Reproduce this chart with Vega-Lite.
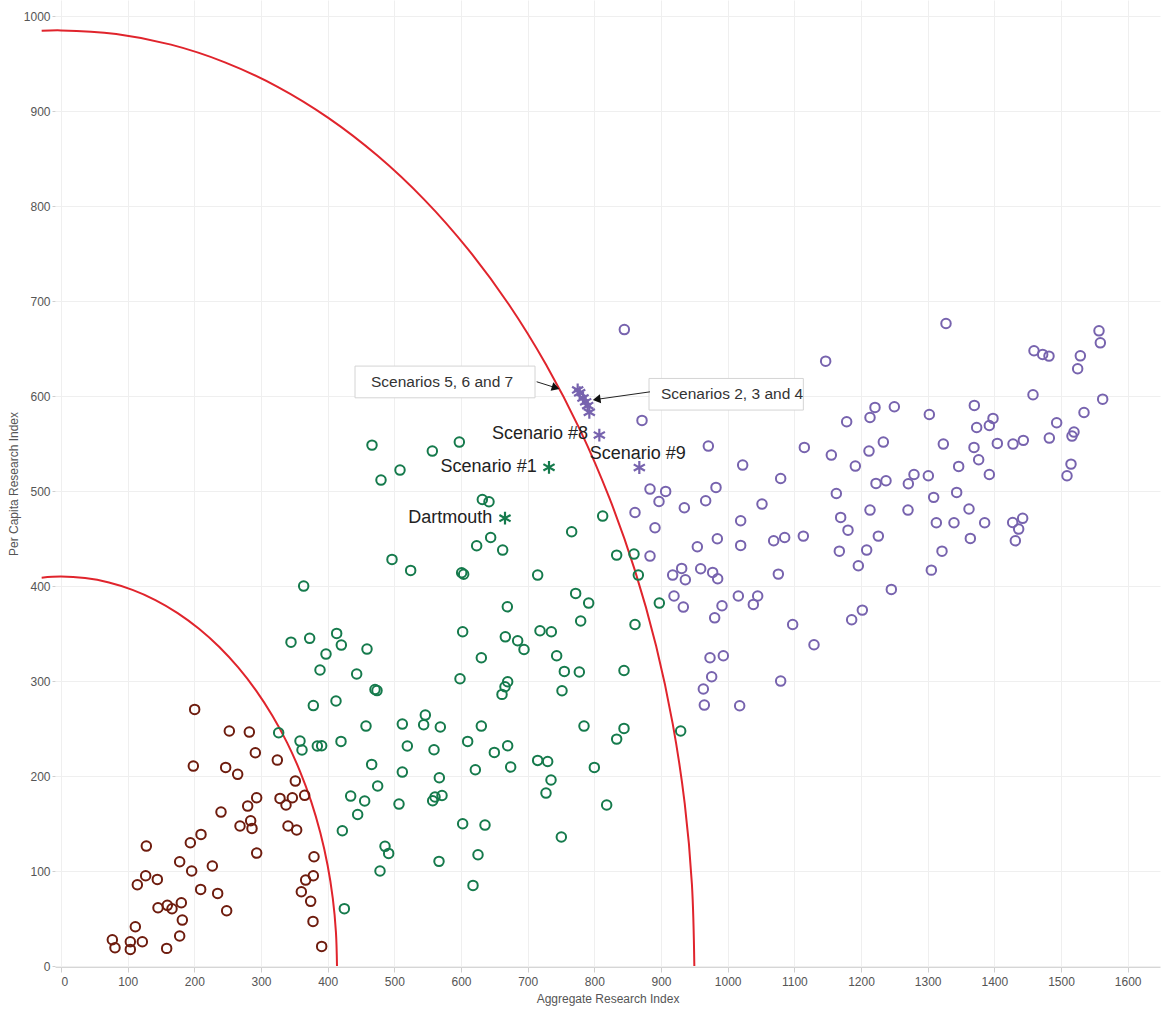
{
  "$schema": "https://vega.github.io/schema/vega-lite/v6.json",
  "width": 1105,
  "height": 967,
  "autosize": {"type": "none"},
  "padding": {"left": 55, "top": 0, "right": 3, "bottom": 48},
  "background": "white",
  "config": {
    "view": {"stroke": null},
    "font": "Liberation Sans",
    "axis": {"gridColor": "#efefef", "gridWidth": 1, "labelColor": "#555", "labelFontSize": 12, "titleColor": "#555", "titleFontSize": 12, "titleFontWeight": "normal", "tickColor": "#cfcfcf", "domainColor": "#d6d6d6"}
  },
  "datasets": {
    "pts": [
      {"x":200.5,"y":270.2,"g":"low"},{"x":252.5,"y":247.4,"g":"low"},{"x":282.5,"y":246.3,"g":"low"},{"x":291.5,"y":224.6,"g":"low"},{"x":324.5,"y":216.8,"g":"low"},{"x":198.5,"y":210.5,"g":"low"},{"x":247,"y":209.1,"g":"low"},{"x":265,"y":201.8,"g":"low"},{"x":351.5,"y":194.7,"g":"low"},{"x":365.5,"y":179.7,"g":"low"},{"x":293.5,"y":177.2,"g":"low"},{"x":328.5,"y":176.5,"g":"low"},{"x":347,"y":177.2,"g":"low"},{"x":337.5,"y":169.5,"g":"low"},{"x":280,"y":168.4,"g":"low"},{"x":240,"y":162.1,"g":"low"},{"x":284.5,"y":153,"g":"low"},{"x":268.5,"y":147.4,"g":"low"},{"x":286.5,"y":144.9,"g":"low"},{"x":340.5,"y":147.4,"g":"low"},{"x":353.5,"y":143.2,"g":"low"},{"x":210,"y":138.6,"g":"low"},{"x":194,"y":129.8,"g":"low"},{"x":128,"y":126.3,"g":"low"},{"x":293.5,"y":118.9,"g":"low"},{"x":379.5,"y":115.1,"g":"low"},{"x":178,"y":109.8,"g":"low"},{"x":227,"y":105.3,"g":"low"},{"x":196,"y":100,"g":"low"},{"x":127,"y":95.1,"g":"low"},{"x":144.5,"y":91.2,"g":"low"},{"x":114.5,"y":85.6,"g":"low"},{"x":378.5,"y":95.1,"g":"low"},{"x":367,"y":90.5,"g":"low"},{"x":209.5,"y":80.7,"g":"low"},{"x":235,"y":76.5,"g":"low"},{"x":360.5,"y":78.2,"g":"low"},{"x":374.5,"y":68.1,"g":"low"},{"x":145.5,"y":61.4,"g":"low"},{"x":159.5,"y":63.9,"g":"low"},{"x":166.5,"y":60.3,"g":"low"},{"x":180.5,"y":66.7,"g":"low"},{"x":248.5,"y":58.2,"g":"low"},{"x":182,"y":48.4,"g":"low"},{"x":378,"y":47,"g":"low"},{"x":111.5,"y":41.4,"g":"low"},{"x":178,"y":31.6,"g":"low"},{"x":77,"y":27.7,"g":"low"},{"x":81,"y":19.3,"g":"low"},{"x":104,"y":25.6,"g":"low"},{"x":122,"y":25.6,"g":"low"},{"x":104,"y":17.5,"g":"low"},{"x":158.5,"y":18.6,"g":"low"},{"x":391,"y":20.7,"g":"low"},
      {"x":326.5,"y":245.6,"g":"mid"},{"x":358.5,"y":236.8,"g":"mid"},{"x":361.5,"y":227.4,"g":"mid"},{"x":378.5,"y":274.2,"g":"mid"},{"x":384.5,"y":231.6,"g":"mid"},{"x":412.5,"y":279,"g":"mid"},
      {"x":457.5,"y":252.6,"g":"mid"},{"x":512,"y":254.7,"g":"mid"},{"x":544,"y":254,"g":"mid"},{"x":569,"y":251.6,"g":"mid"},{"x":630.5,"y":252.6,"g":"mid"},{"x":391,"y":231.9,"g":"mid"},{"x":420,"y":236.5,"g":"mid"},{"x":519.5,"y":231.6,"g":"mid"},{"x":559.5,"y":227.7,"g":"mid"},{"x":610,"y":236.5,"g":"mid"},{"x":650,"y":224.9,"g":"mid"},{"x":670,"y":231.9,"g":"mid"},{"x":466,"y":212.3,"g":"mid"},{"x":512,"y":204.2,"g":"mid"},{"x":567.5,"y":198.2,"g":"mid"},{"x":621.5,"y":206.7,"g":"mid"},{"x":674.5,"y":209.5,"g":"mid"},{"x":715,"y":216.5,"g":"mid"},{"x":730,"y":215.4,"g":"mid"},{"x":735,"y":195.8,"g":"mid"},{"x":727.5,"y":182.1,"g":"mid"},{"x":475,"y":189.5,"g":"mid"},{"x":434.5,"y":178.9,"g":"mid"},{"x":455.5,"y":173.7,"g":"mid"},{"x":445,"y":159.6,"g":"mid"},{"x":507,"y":170.5,"g":"mid"},{"x":557.5,"y":174,"g":"mid"},{"x":561,"y":178,"g":"mid"},{"x":571.5,"y":179.6,"g":"mid"},{"x":422,"y":142.4,"g":"mid"},{"x":486,"y":126,"g":"mid"},{"x":491.5,"y":118.6,"g":"mid"},{"x":478.5,"y":100,"g":"mid"},{"x":567,"y":110.2,"g":"mid"},{"x":602.5,"y":149.8,"g":"mid"},{"x":636,"y":148.4,"g":"mid"},{"x":625.5,"y":117.2,"g":"mid"},{"x":618,"y":84.9,"g":"mid"},{"x":750.5,"y":135.8,"g":"mid"},{"x":425,"y":60.4,"g":"mid"},
      {"x":466.5,"y":548.4,"g":"mid"},{"x":480,"y":511.6,"g":"mid"},{"x":508.5,"y":522.1,"g":"mid"},{"x":557,"y":542.1,"g":"mid"},{"x":597.5,"y":551.6,"g":"mid"},{"x":632,"y":491.2,"g":"mid"},{"x":642,"y":488.8,"g":"mid"},{"x":644.5,"y":451.2,"g":"mid"},{"x":623.5,"y":442.4,"g":"mid"},{"x":662.5,"y":437.9,"g":"mid"},{"x":496.5,"y":428.1,"g":"mid"},{"x":524.5,"y":416.5,"g":"mid"},{"x":601,"y":414,"g":"mid"},{"x":604,"y":412.5,"g":"mid"},{"x":715,"y":411.6,"g":"mid"},{"x":766,"y":457.2,"g":"mid"},{"x":669.5,"y":378.2,"g":"mid"},{"x":602.5,"y":351.9,"g":"mid"},{"x":666.5,"y":346.6,"g":"mid"},{"x":685,"y":342.4,"g":"mid"},{"x":694.5,"y":333.3,"g":"mid"},{"x":718.5,"y":353,"g":"mid"},{"x":735.5,"y":351.9,"g":"mid"},{"x":743.5,"y":326.6,"g":"mid"},{"x":755,"y":310.2,"g":"mid"},{"x":751.5,"y":289.8,"g":"mid"},{"x":630.5,"y":324.5,"g":"mid"},{"x":598.5,"y":302.4,"g":"mid"},{"x":670,"y":299.3,"g":"mid"},{"x":666,"y":294,"g":"mid"},{"x":661.5,"y":286,"g":"mid"},{"x":413.5,"y":350.2,"g":"mid"},{"x":420.5,"y":337.9,"g":"mid"},{"x":397.5,"y":328.4,"g":"mid"},{"x":459,"y":333.7,"g":"mid"},{"x":443.5,"y":307.4,"g":"mid"},{"x":471,"y":291.2,"g":"mid"},{"x":474,"y":290,"g":"mid"},{"x":388.5,"y":311.6,"g":"mid"},{"x":546.5,"y":264.2,"g":"mid"},{"x":364,"y":400,"g":"mid"},{"x":345,"y":341,"g":"mid"},{"x":373,"y":345,"g":"mid"},
      {"x":812.5,"y":473.7,"g":"mid"},{"x":833.5,"y":432.6,"g":"mid"},{"x":859.5,"y":433.7,"g":"mid"},{"x":866,"y":411.6,"g":"mid"},{"x":772,"y":392.3,"g":"mid"},{"x":791.5,"y":382.1,"g":"mid"},{"x":897.5,"y":382.1,"g":"mid"},{"x":779.5,"y":363.2,"g":"mid"},{"x":861,"y":359.6,"g":"mid"},{"x":777.5,"y":309.5,"g":"mid"},{"x":844.5,"y":311.2,"g":"mid"},{"x":784.5,"y":252.6,"g":"mid"},{"x":844.5,"y":250.2,"g":"mid"},{"x":833.5,"y":238.9,"g":"mid"},{"x":929.5,"y":247.4,"g":"mid"},{"x":800,"y":209.1,"g":"mid"},{"x":818.5,"y":169.5,"g":"mid"},
      {"x":971,"y":547.4,"g":"high"},{"x":1022.5,"y":527.4,"g":"high"},{"x":1115,"y":546,"g":"high"},{"x":1079.5,"y":513.3,"g":"high"},{"x":883.5,"y":502.1,"g":"high"},{"x":907,"y":499.7,"g":"high"},{"x":897,"y":489.1,"g":"high"},{"x":935,"y":482.5,"g":"high"},{"x":967,"y":489.8,"g":"high"},{"x":982.5,"y":503.9,"g":"high"},{"x":1051.5,"y":486.3,"g":"high"},{"x":861,"y":477.5,"g":"high"},{"x":891,"y":461.4,"g":"high"},{"x":1019.5,"y":468.8,"g":"high"},{"x":984.5,"y":449.8,"g":"high"},{"x":1019.5,"y":442.8,"g":"high"},{"x":954.5,"y":441.4,"g":"high"},{"x":883.5,"y":431.6,"g":"high"},{"x":1069,"y":447.7,"g":"high"},{"x":1085.5,"y":451.2,"g":"high"},{"x":1113.5,"y":452.6,"g":"high"},{"x":1076,"y":412.6,"g":"high"},{"x":917.5,"y":411.6,"g":"high"},{"x":931,"y":418.6,"g":"high"},{"x":936.5,"y":406.7,"g":"high"},{"x":959.5,"y":418.2,"g":"high"},{"x":977.5,"y":414.4,"g":"high"},{"x":985,"y":407.7,"g":"high"},{"x":919.5,"y":389.5,"g":"high"},{"x":933.5,"y":377.9,"g":"high"},{"x":991.5,"y":379.3,"g":"high"},{"x":980.5,"y":366.6,"g":"high"},{"x":1016,"y":389.5,"g":"high"},{"x":1045,"y":389.5,"g":"high"},{"x":1038.5,"y":380.7,"g":"high"},{"x":1097.5,"y":359.6,"g":"high"},{"x":1129.5,"y":338.2,"g":"high"},{"x":973.5,"y":324.5,"g":"high"},{"x":993.5,"y":326.6,"g":"high"},{"x":976,"y":304.5,"g":"high"},{"x":1079.5,"y":300,"g":"high"},{"x":963.5,"y":291.6,"g":"high"},{"x":965,"y":274.7,"g":"high"},{"x":1018,"y":274,"g":"high"},
      {"x":845,"y":670,"g":"high"},{"x":871.5,"y":574.4,"g":"high"},{"x":1147,"y":636.8,"g":"high"},{"x":1178.5,"y":573,"g":"high"},{"x":1213.5,"y":577.5,"g":"high"},{"x":1221,"y":588.1,"g":"high"},{"x":1250,"y":588.8,"g":"high"},{"x":1155.5,"y":537.9,"g":"high"},{"x":1191.5,"y":526.3,"g":"high"},{"x":1212,"y":542.1,"g":"high"},{"x":1233.5,"y":551.6,"g":"high"},{"x":1222.5,"y":508.1,"g":"high"},{"x":1237.5,"y":510.9,"g":"high"},{"x":1163,"y":497.5,"g":"high"},{"x":1213.5,"y":480,"g":"high"},{"x":1169.5,"y":472.3,"g":"high"},{"x":1180.5,"y":458.9,"g":"high"},{"x":1226,"y":452.6,"g":"high"},{"x":1167.5,"y":436.8,"g":"high"},{"x":1208.5,"y":437.9,"g":"high"},{"x":1196,"y":421.4,"g":"high"},{"x":1245.5,"y":396.5,"g":"high"},{"x":1202,"y":374.7,"g":"high"},{"x":1186,"y":364.6,"g":"high"},
      {"x":1327.5,"y":676.5,"g":"high"},{"x":1557,"y":668.7,"g":"high"},{"x":1559,"y":656.1,"g":"high"},{"x":1459.5,"y":647.7,"g":"high"},{"x":1472.5,"y":643.9,"g":"high"},{"x":1482,"y":642.1,"g":"high"},{"x":1529,"y":642.4,"g":"high"},{"x":1525,"y":628.8,"g":"high"},{"x":1458,"y":601.4,"g":"high"},{"x":1562.5,"y":596.8,"g":"high"},{"x":1302.5,"y":580.7,"g":"high"},{"x":1370,"y":590.2,"g":"high"},{"x":1534.5,"y":582.8,"g":"high"},{"x":1398,"y":576.5,"g":"high"},{"x":1392.5,"y":569.1,"g":"high"},{"x":1373.5,"y":567,"g":"high"},{"x":1493.5,"y":571.9,"g":"high"},{"x":1519.5,"y":562.1,"g":"high"},{"x":1516.5,"y":557.9,"g":"high"},{"x":1482.5,"y":555.8,"g":"high"},{"x":1443.5,"y":553.4,"g":"high"},{"x":1428,"y":549.5,"g":"high"},{"x":1404.5,"y":550.2,"g":"high"},{"x":1323.5,"y":549.5,"g":"high"},{"x":1369.5,"y":546,"g":"high"},{"x":1376.5,"y":533,"g":"high"},{"x":1346.5,"y":526,"g":"high"},{"x":1392.5,"y":517.5,"g":"high"},{"x":1515,"y":528.4,"g":"high"},{"x":1509,"y":516.1,"g":"high"},{"x":1279.5,"y":517.5,"g":"high"},{"x":1271,"y":507.7,"g":"high"},{"x":1301,"y":516.1,"g":"high"},{"x":1309,"y":493.4,"g":"high"},{"x":1343.5,"y":498.6,"g":"high"},{"x":1270.5,"y":480,"g":"high"},{"x":1362,"y":481.1,"g":"high"},{"x":1313,"y":466.7,"g":"high"},{"x":1339.5,"y":466.7,"g":"high"},{"x":1385.5,"y":466.7,"g":"high"},{"x":1427.5,"y":467,"g":"high"},{"x":1442.5,"y":471.3,"g":"high"},{"x":1436.5,"y":460,"g":"high"},{"x":1431.5,"y":447.7,"g":"high"},{"x":1364,"y":450.2,"g":"high"},{"x":1321.5,"y":436.8,"g":"high"},{"x":1305.5,"y":416.8,"g":"high"}
    ],
    "stars": [
      {"x":732,"y":525,"g":"mid"},{"x":666,"y":471.5,"g":"mid"},
      {"x":775,"y":606.5,"g":"high"},{"x":778,"y":603.5,"g":"high"},{"x":783,"y":598,"g":"high"},{"x":787,"y":594,"g":"high"},{"x":790,"y":590,"g":"high"},{"x":792.5,"y":583,"g":"high"},{"x":807.5,"y":559,"g":"high"},{"x":867.5,"y":524.8,"g":"high"}
    ],
    "arcs": [
      {"arc":"outer","o":0,"x":950,"y":0},{"arc":"outer","o":1,"x":946.4,"y":85.9},{"arc":"outer","o":2,"x":935.6,"y":171},{"arc":"outer","o":3,"x":917.6,"y":254.9},{"arc":"outer","o":4,"x":892.7,"y":336.9},{"arc":"outer","o":5,"x":861,"y":416.3},{"arc":"outer","o":6,"x":822.7,"y":492.5},{"arc":"outer","o":7,"x":778.2,"y":565},{"arc":"outer","o":8,"x":727.7,"y":633.1},{"arc":"outer","o":9,"x":671.8,"y":696.5},{"arc":"outer","o":10,"x":610.7,"y":754.5},{"arc":"outer","o":11,"x":544.9,"y":806.9},{"arc":"outer","o":12,"x":475,"y":853},{"arc":"outer","o":13,"x":401.5,"y":892.7},{"arc":"outer","o":14,"x":324.9,"y":925.6},{"arc":"outer","o":15,"x":245.9,"y":951.4},{"arc":"outer","o":16,"x":165,"y":970},{"arc":"outer","o":17,"x":82.8,"y":981.2},{"arc":"outer","o":18,"x":0,"y":985},{"arc":"outer","o":19,"x":-29,"y":984.5},
      {"arc":"inner","o":0,"x":414,"y":0},{"arc":"inner","o":1,"x":412.4,"y":35.7},{"arc":"inner","o":2,"x":407.7,"y":71.2},{"arc":"inner","o":3,"x":399.9,"y":106.1},{"arc":"inner","o":4,"x":389,"y":140.2},{"arc":"inner","o":5,"x":375.2,"y":173.3},{"arc":"inner","o":6,"x":358.5,"y":205},{"arc":"inner","o":7,"x":339.1,"y":235.2},{"arc":"inner","o":8,"x":317.1,"y":263.5},{"arc":"inner","o":9,"x":292.7,"y":289.9},{"arc":"inner","o":10,"x":266.1,"y":314.1},{"arc":"inner","o":11,"x":237.5,"y":335.9},{"arc":"inner","o":12,"x":207,"y":355.1},{"arc":"inner","o":13,"x":175,"y":371.6},{"arc":"inner","o":14,"x":141.6,"y":385.3},{"arc":"inner","o":15,"x":107.2,"y":396},{"arc":"inner","o":16,"x":71.9,"y":403.8},{"arc":"inner","o":17,"x":36.1,"y":408.4},{"arc":"inner","o":18,"x":0,"y":410},{"arc":"inner","o":19,"x":-29,"y":408.9}
    ],
    "boxes": [
      {"x":441,"x2":711,"y":598.2,"y2":631.6,"t":"Scenarios 5, 6 and 7","tx":465,"ty":614.9},
      {"x":882,"x2":1113.5,"y":585.3,"y2":618.6,"t":"Scenarios 2, 3 and 4","tx":900,"ty":602}
    ],
    "arrows": [
      {"x":713.5,"y":615.1,"x2":743,"y2":608.6,"hx":742,"hy":608.8,"a":17.4},
      {"x":883.5,"y":604.5,"x2":802,"y2":596.4,"hx":803.5,"hy":596.6,"a":171.9}
    ],
    "rlabels": [
      {"x":790.5,"y":560.5,"t":"Scenario #8"},
      {"x":713.5,"y":525.6,"t":"Scenario #1"},
      {"x":647,"y":471.2,"t":"Dartmouth"}
    ],
    "clabels": [
      {"x":865,"y":539,"t":"Scenario #9"}
    ]
  },
  "layer": [
    {
      "data": {"name": "arcs"},
      "mark": {"type": "line", "color": "#e0242c", "strokeWidth": 2, "clip": false, "interpolate": "catmull-rom"},
      "encoding": {
        "x": {"field": "x", "type": "quantitative", "scale": {"domain": [-9, 1648.5], "nice": false, "zero": false},
          "axis": {"title": "Aggregate Research Index", "format": "d", "values": [0,100,200,300,400,500,600,700,800,900,1000,1100,1200,1300,1400,1500,1600], "tickSize": 5, "labelPadding": 4, "titlePadding": 6, "labelFlush": 8, "grid": true}},
        "y": {"field": "y", "type": "quantitative", "scale": {"domain": [-1, 1017], "nice": false, "zero": false},
          "axis": {"title": "Per Capita Research Index", "format": "d", "values": [0,100,200,300,400,500,600,700,800,900,1000], "tickSize": 3, "labelPadding": 2, "titlePadding": 3, "domain": false, "grid": true}},
        "detail": {"field": "arc"},
        "order": {"field": "o", "type": "quantitative"}
      }
    },
    {
      "data": {"name": "pts"},
      "mark": {"type": "point", "shape": "circle", "filled": false, "size": 90, "strokeWidth": 2, "opacity": 1},
      "encoding": {
        "x": {"field": "x", "type": "quantitative"},
        "y": {"field": "y", "type": "quantitative"},
        "color": {"field": "g", "type": "nominal", "scale": {"domain": ["low", "mid", "high"], "range": ["#6e1c0e", "#157a4c", "#7763ae"]}, "legend": null}
      }
    },
    {
      "data": {"name": "stars"},
      "mark": {"type": "point", "shape": "M0,-1L0,1M-0.87,-0.5L0.87,0.5M-0.87,0.5L0.87,-0.5", "filled": false, "size": 165, "strokeWidth": 2.2, "opacity": 1},
      "encoding": {
        "x": {"field": "x", "type": "quantitative"},
        "y": {"field": "y", "type": "quantitative"},
        "color": {"field": "g", "type": "nominal", "legend": null}
      }
    },
    {
      "data": {"name": "boxes"},
      "mark": {"type": "rect", "fill": "white", "stroke": "#d4d4d4", "strokeWidth": 1},
      "encoding": {
        "x": {"field": "x", "type": "quantitative"},
        "x2": {"field": "x2"},
        "y": {"field": "y", "type": "quantitative"},
        "y2": {"field": "y2"}
      }
    },
    {
      "data": {"name": "boxes"},
      "mark": {"type": "text", "align": "left", "baseline": "middle", "fontSize": 15.5, "color": "#333"},
      "encoding": {
        "x": {"field": "tx", "type": "quantitative"},
        "y": {"field": "ty", "type": "quantitative"},
        "text": {"field": "t"}
      }
    },
    {
      "data": {"name": "arrows"},
      "mark": {"type": "rule", "color": "#222", "strokeWidth": 1},
      "encoding": {
        "x": {"field": "x", "type": "quantitative"},
        "y": {"field": "y", "type": "quantitative"},
        "x2": {"field": "x2"},
        "y2": {"field": "y2"}
      }
    },
    {
      "data": {"name": "arrows"},
      "mark": {"type": "point", "shape": "triangle-right", "filled": true, "size": 80, "color": "#111", "opacity": 1},
      "encoding": {
        "x": {"field": "hx", "type": "quantitative"},
        "y": {"field": "hy", "type": "quantitative"},
        "angle": {"field": "a", "type": "quantitative", "scale": null}
      }
    },
    {
      "data": {"name": "rlabels"},
      "mark": {"type": "text", "align": "right", "baseline": "middle", "fontSize": 18, "color": "#222"},
      "encoding": {
        "x": {"field": "x", "type": "quantitative"},
        "y": {"field": "y", "type": "quantitative"},
        "text": {"field": "t"}
      }
    },
    {
      "data": {"name": "clabels"},
      "mark": {"type": "text", "align": "center", "baseline": "middle", "fontSize": 18, "color": "#222"},
      "encoding": {
        "x": {"field": "x", "type": "quantitative"},
        "y": {"field": "y", "type": "quantitative"},
        "text": {"field": "t"}
      }
    }
  ]
}
